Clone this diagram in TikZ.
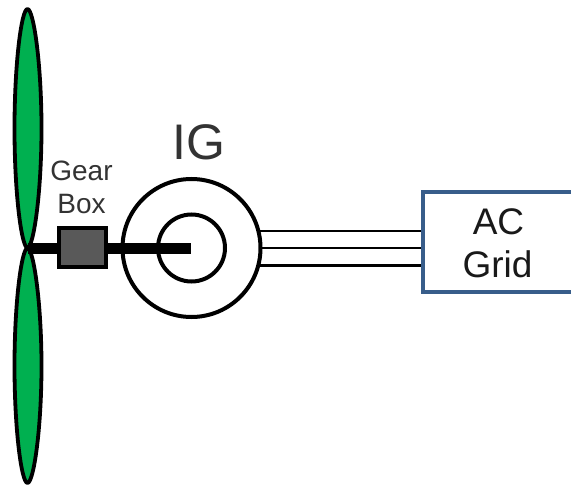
\documentclass[tikz,border=0pt]{standalone}
\usepackage{fontspec}
\setmainfont{Liberation Sans}
\definecolor{bladegreen}{RGB}{0,176,80}
\definecolor{boxblue}{RGB}{56,93,138}
\definecolor{gearfill}{RGB}{89,89,89}
\definecolor{labelgray}{RGB}{51,51,51}
\tikzset{
  blade/.style={draw=black,fill=bladegreen,line width=3.8pt,line join=round},
  ring/.style={draw=black,fill=white,line width=4pt,circle,inner sep=0pt},
  gearbox/.style={draw=black,fill=gearfill,line width=4pt,inner sep=0pt,minimum width=47pt,minimum height=39pt},
  shaftline/.style={line width=11pt,draw=black},
  feeder/.style={line width=2.8pt,draw=black},
  gridbox/.style={draw=boxblue,line width=4.6pt,fill=white},
  lbl/.style={font=\fontsize{#1}{#1}\selectfont,inner sep=0pt,text=labelgray,align=center,anchor=base}
}
\begin{document}
\begin{tikzpicture}[x=1pt,y=-1pt]
\useasboundingbox (0,0) rectangle (571,487);
% AC grid box, open past the right edge
\begin{scope}
\clip (0,0) rectangle (571,487);
\draw[gridbox] (580,192) -- (423,192) -- (423,292) -- (580,292);
\end{scope}
\coordinate (gridA) at (421,231);
\coordinate (gridB) at (421,248);
\coordinate (gridC) at (421,265.5);
\coordinate (hub) at (27.5,248);
\node[ring,minimum size=138pt] (outer) at (191.5,248) {};
\coordinate (genA) at (258,231);
\coordinate (genB) at (260,248);
\coordinate (genC) at (258,265.5);
\draw[feeder] (genA) -- (gridA);
\draw[feeder] (genB) -- (gridB);
\draw[feeder] (genC) -- (gridC);
\node[ring,minimum size=67pt] (inner) at (191.5,248) {};
\coordinate (shaftend) at (191,248.5);
% blades
\draw[blade] (hub) .. controls (21.5,247) and (14.5,194) .. (14.5,128.5)
  .. controls (14.5,63) and (21.5,9) .. (27.5,9)
  .. controls (33.5,9) and (41.5,63) .. (41.5,128.5)
  .. controls (41.5,194) and (33.5,247) .. (hub) -- cycle;
\draw[blade] (hub) .. controls (21.5,249) and (14.5,302) .. (14.5,366)
  .. controls (14.5,430) and (21.5,483) .. (27.5,483)
  .. controls (33.5,483) and (41.5,430) .. (41.5,366)
  .. controls (41.5,302) and (33.5,249) .. (hub) -- cycle;
\draw[shaftline] (hub |- shaftend) -- (shaftend);
\node[gearbox] (gear) at (82.5,247.5) {};
\node[lbl=28] (gearlabel) at (81.5,180) {Gear};
\node[lbl=28] (boxlabel) at (81.5,213) {Box};
\node[lbl=50] (ig) at (198.5,159) {IG};
\node[lbl=37,text=black!90] (aclabel) at (498.5,234) {AC};
\node[lbl=37,text=black!90] (gridlabel) at (497.5,277) {Grid};
\end{tikzpicture}
\end{document}
